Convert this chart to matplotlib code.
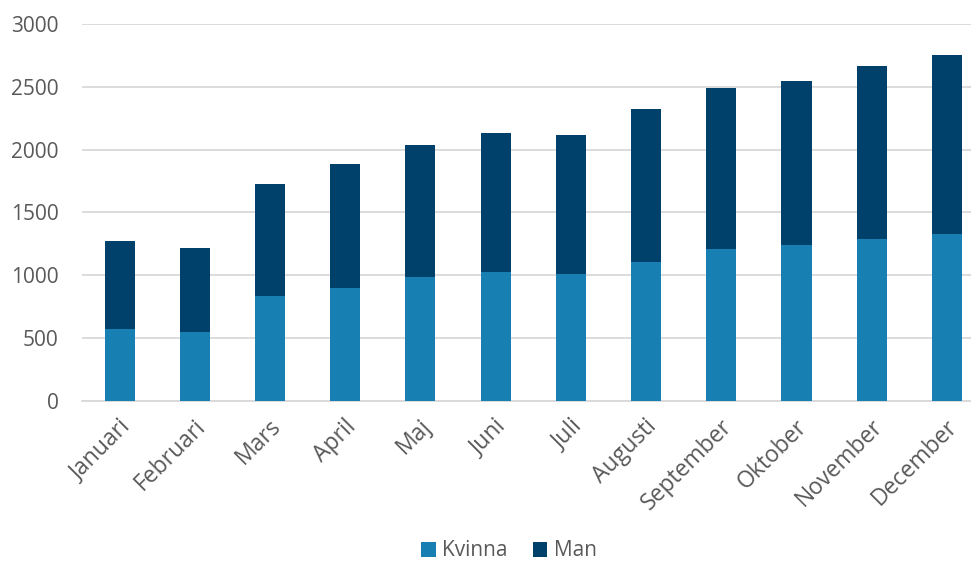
import matplotlib
matplotlib.use("Agg")
import matplotlib.pyplot as plt
import matplotlib.transforms as mtransforms
import numpy as np

months = ["Januari", "Februari", "Mars", "April", "Maj", "Juni", "Juli",
          "Augusti", "September", "Oktober", "November", "December"]
kvinna = [568, 547, 830, 900, 982, 1027, 1011, 1107, 1212, 1236, 1290, 1324]
total = [1268, 1220, 1727, 1889, 2040, 2130, 2119, 2324, 2491, 2543, 2666, 2753]
man = [t - k for t, k in zip(total, kvinna)]
yticks = [0, 500, 1000, 1500, 2000, 2500, 3000]

c_kv = "#187FB3"
c_man = "#00416B"
txt = "#595959"

plt.rcParams['font.family'] = ['Open Sans', 'DejaVu Sans']

fig = plt.figure(figsize=(9.71, 5.63), dpi=100)
ax = fig.add_axes([82/971, (563-400.7)/563, 1 - 82/971, (400.7-24)/563])

x = np.arange(len(months))
ax.bar(x, kvinna, width=0.4, color=c_kv, label="Kvinna", zorder=3)
ax.bar(x, man, bottom=kvinna, width=0.4, color=c_man, label="Man", zorder=3)

ax.set_xlim(-0.5, 11.32)
ax.set_ylim(0, 3000)
ax.set_yticks(yticks)
ax.set_yticklabels([str(v) for v in yticks])
ax.yaxis.grid(True, color="#D9D9D9", linewidth=1.3, zorder=0)
ax.set_axisbelow(True)
for s in ["top", "right", "left"]:
    ax.spines[s].set_visible(False)
ax.spines["bottom"].set_color("#D9D9D9")
ax.spines["bottom"].set_linewidth(1.3)
ax.tick_params(axis="y", length=0, pad=17, labelsize=15, labelcolor=txt)
ax.tick_params(axis="x", length=0, pad=10, labelsize=16.5, labelcolor=txt)
ax.set_xticks(x)
ax.set_xticklabels(months, rotation=45, ha="right", rotation_mode="anchor")
offset = mtransforms.ScaledTranslation(-1/100, 0, fig.dpi_scale_trans)
for lab in ax.get_xticklabels():
    lab.set_transform(lab.get_transform() + offset)

fig.legend(loc="center", bbox_to_anchor=(509/971, 1 - 551/563), ncol=2,
           frameon=False, fontsize=15, labelcolor=txt, handlelength=0.7,
           handleheight=0.7, handletextpad=0.3, columnspacing=1.2)

fig.savefig("out.png", dpi=100)
